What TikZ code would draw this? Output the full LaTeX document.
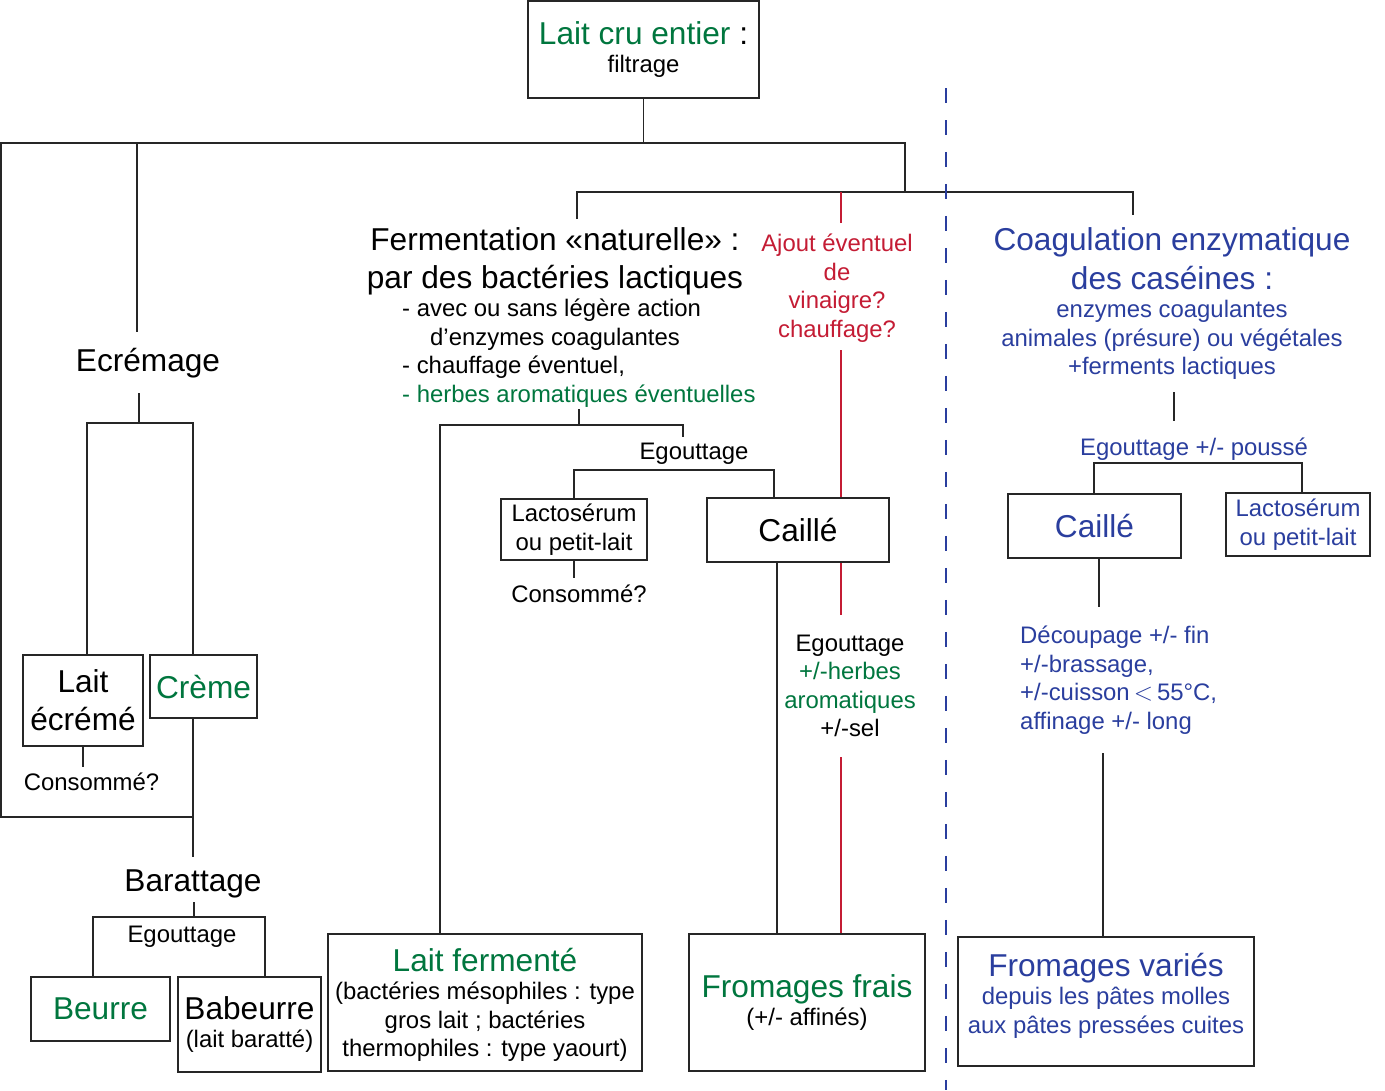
\documentclass[tikz,border=0pt]{standalone}
\usepackage{fontspec}
\setmainfont{Liberation Sans}
\usepackage{tikz}
\usetikzlibrary{positioning,calc}
\usepackage{xcolor}
\definecolor{MilkGreen}{RGB}{0,118,62}
\definecolor{RennetBlue}{RGB}{42,62,158}
\definecolor{AcidRed}{RGB}{196,28,52}
\newcommand{\FontBig}{\fontsize{18}{21.5}\selectfont}
\newcommand{\FontSmall}{\fontsize{13.6}{16.2}\selectfont}
\tikzset{
  stepbox/.style={draw=black!85,line width=1.1pt,align=center,inner sep=2pt,font=\FontSmall},
  steptext/.style={align=center,font=\FontSmall},
  link/.style={draw=black!85,line width=0.7pt},
  redlink/.style={draw=AcidRed,line width=0.7pt},
  divider/.style={draw=RennetBlue,line width=0.8pt,dash pattern=on 0.3cm off 0.34cm},
}

\begin{document}
\begin{tikzpicture}[x=0.02cm,y=-0.02cm]
\useasboundingbox (0,0) rectangle (1385,1090);

% milk and skimming
\node[stepbox,minimum width=4.62cm,minimum height=1.94cm] (lait) at (643.5,49.5) {{\FontBig\textcolor{MilkGreen}{Lait cru entier} :}\\filtrage};
\node[steptext,font=\FontBig] (ecremage) at (148,363) {Ecrémage};
\node[stepbox,font=\FontBig,minimum width=2.4cm,minimum height=1.82cm] (ecreme) at (83,700.5) {Lait\\écrémé};
\node[stepbox,font=\FontBig,text=MilkGreen,minimum width=2.14cm,minimum height=1.26cm] (creme) at (203.5,686.5) {Crème};
\node[steptext] (consA) at (91.5,782) {Consommé?};
\node[steptext,font=\FontBig] (baratt) at (193,884) {Barattage};
\node[steptext] (egoutA) at (182,937) {Egouttage};
\node[stepbox,font=\FontBig,text=MilkGreen,minimum width=2.78cm,minimum height=1.28cm] (beurre) at (100.5,1009) {Beurre};
\node[stepbox,minimum width=2.86cm,minimum height=1.9cm] (babeurre) at (249.5,1024.5) {{\FontBig Babeurre}\\(lait baratté)};

% lactic fermentation
\node[steptext,font=\FontBig] (fermTitle) at (555,261) {Fermentation «naturelle» :\\par des bactéries lactiques};
\node[steptext,align=left,anchor=west] (fermList) at (396,353) {- avec ou sans légère action\\\hspace*{0.56cm}d’enzymes coagulantes\\- chauffage éventuel,\\\textcolor{MilkGreen}{- herbes aromatiques éventuelles}};
\node[steptext,text=AcidRed] (ajout) at (837,288) {Ajout éventuel\\de\\vinaigre?\\chauffage?};
\node[steptext] (egoutB) at (694,453.5) {Egouttage};
\node[stepbox,minimum width=2.92cm,minimum height=1.22cm] (lactoA) at (574,529.5) {Lactosérum\\ou petit-lait};
\node[stepbox,font=\FontBig,minimum width=3.64cm,minimum height=1.28cm] (cailleA) at (798,530) {Caillé};
\node[steptext] (consB) at (579,594) {Consommé?};
\node[steptext] (egoutC) at (850,686) {Egouttage\\\textcolor{MilkGreen}{+/-herbes}\\\textcolor{MilkGreen}{aromatiques}\\+/-sel};
\node[stepbox,text depth=-2pt,minimum width=6.28cm,minimum height=2.74cm] (fermente) at (485,1002.5) {{\FontBig\textcolor{MilkGreen}{Lait fermenté}}\\(bactéries mésophiles : type\\gros lait ; bactéries\\thermophiles : type yaourt)};
\node[stepbox,minimum width=4.72cm,minimum height=2.74cm] (frais) at (807,1002.5) {{\FontBig\textcolor{MilkGreen}{Fromages frais}}\\(+/- affinés)};

% enzymatic coagulation
\node[steptext,text=RennetBlue] (coag) at (1172,303.5) {{\FontBig Coagulation enzymatique}\\[4pt]{\FontBig des caséines :}\\enzymes coagulantes\\animales (présure) ou végétales\\+ferments lactiques};
\node[steptext,text=RennetBlue] (egoutD) at (1194,449.5) {Egouttage +/- poussé};
\node[stepbox,font=\FontBig,text=RennetBlue,minimum width=3.46cm,minimum height=1.28cm] (cailleB) at (1094.5,526) {Caillé};
\node[stepbox,text=RennetBlue,minimum width=2.88cm,minimum height=1.26cm] (lactoB) at (1298,524.5) {Lactosérum\\ou petit-lait};
\node[steptext,text=RennetBlue,align=left,anchor=west] (decoupe) at (1014,680) {Découpage +/- fin\\+/-brassage,\\+/-cuisson\,$<$\,55°C,\\affinage +/- long};
\node[stepbox,text=RennetBlue,text depth=9.8pt,minimum width=5.92cm,minimum height=2.58cm] (varies) at (1106,1001.5) {{\FontBig Fromages variés}\\depuis les pâtes molles\\aux pâtes pressées cuites};

\coordinate (hub) at (643.5,143);
\coordinate (leftTurn) at (1,817);
\coordinate (cremeJoin) at (193,817);
\coordinate (ecrIn) at (137,332);
\coordinate (ecrOut) at (139,393);
\coordinate (ecrFork) at (139,423);
\coordinate (ecrForkL) at (87,423);
\coordinate (ecrForkR) at (193,423);
\coordinate (consAIn) at (85,767);
\coordinate (baratIn) at (193,857);
\coordinate (baratOut) at (194,902);
\coordinate (barForkL) at (93,917);
\coordinate (barForkR) at (265,917);
\coordinate (midHub) at (905,192);
\coordinate (fermIn) at (577,219);
\coordinate (coagIn) at (1133,215);
\coordinate (ajoutIn) at (841,223);
\coordinate (ajoutOut) at (841,350);
\coordinate (fermOut) at (579,409);
\coordinate (fermFork) at (579,425);
\coordinate (fermForkL) at (440,425);
\coordinate (egoutBIn) at (683,437);
\coordinate (cailleBarR) at (774,470);
\coordinate (consBIn) at (577,578);
\coordinate (fraisIn) at (777,934);
\coordinate (egoutCIn) at (841,615);
\coordinate (egoutCOut) at (841,757);
\coordinate (coagOut) at (1174,392);
\coordinate (egoutDIn) at (1174,421);
\coordinate (barDL) at (1094,463);
\coordinate (barDR) at (1302,463);
\coordinate (decoupIn) at (1099,607);
\coordinate (decoupOut) at (1103,753);
\coordinate (divTop) at (946,88);
\coordinate (divBot) at (946,1090);

\draw[link] (lait.south) -- (hub);
\draw[link] (hub) -| (leftTurn) -- (cremeJoin);
\draw[link] (hub) -| (ecrIn);
\draw[link] (hub) -| (midHub);
\draw[link] (ecrOut) -- (ecrFork);
\draw[link] (ecreme.north -| ecrForkL) -- (ecrForkL) -- (ecrForkR) -- (creme.north -| ecrForkR);
\draw[link] (ecreme.south) -- (ecreme.south |- consAIn);
\draw[link] (creme.south -| ecrForkR) -- (baratIn);
\draw[link] (baratOut) -- (baratOut |- barForkL);
\draw[link] (beurre.north -| barForkL) -- (barForkL) -- (barForkR) -- (babeurre.north -| barForkR);
\draw[link] (fermIn) |- (midHub) -| (coagIn);
\draw[redlink] (ajoutIn) -- (ajoutIn |- midHub);
\draw[link] (fermOut) -- (fermFork);
\draw[link] (fermente.north -| fermForkL) -- (fermForkL) -| (egoutBIn);
\draw[link] (lactoA.north) |- (cailleBarR) -- (cailleA.north -| cailleBarR);
\draw[link] (lactoA.south) -- (lactoA.south |- consBIn);
\draw[link] (cailleA.south -| fraisIn) -- (fraisIn);
\draw[redlink] (ajoutOut) -- (cailleA.north -| ajoutOut);
\draw[redlink] (cailleA.south -| egoutCIn) -- (egoutCIn);
\draw[redlink] (egoutCOut) -- (frais.north -| egoutCOut);
\draw[link] (coagOut) -- (egoutDIn);
\draw[link] (cailleB.north -| barDL) -- (barDL) -- (barDR) -- (lactoB.north -| barDR);
\draw[link] (cailleB.south -| decoupIn) -- (decoupIn);
\draw[link] (decoupOut) -- (varies.north -| decoupOut);
\draw[divider] (divTop) -- (divBot);
\end{tikzpicture}
\end{document}
